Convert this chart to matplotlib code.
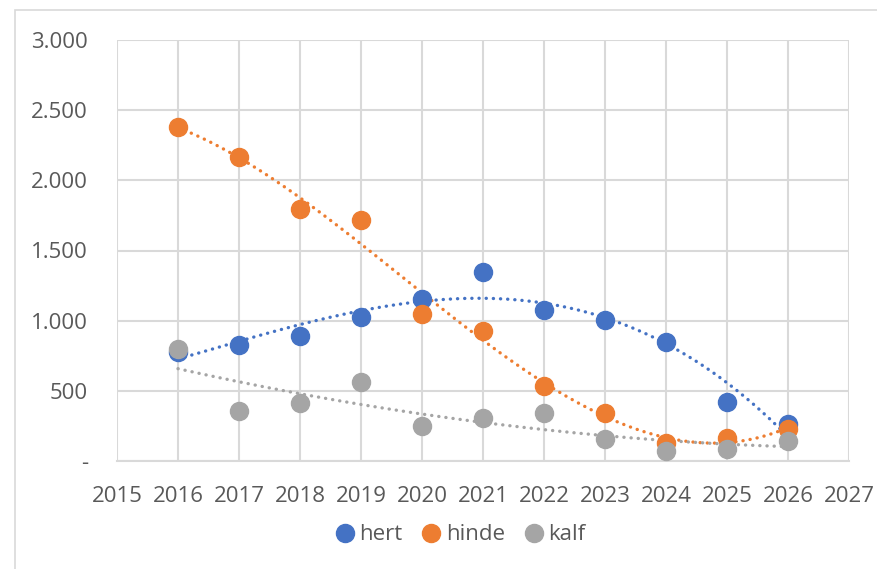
import numpy as np
import matplotlib.pyplot as plt
import matplotlib.ticker as ticker
from matplotlib.patches import Rectangle

# --- data ---
years = [2016, 2017, 2018, 2019, 2020, 2021, 2022, 2023, 2024, 2025, 2026]
hert = [780, 827, 890, 1026, 1155, 1347, 1076, 1005, 845, 420, 262]
hinde = [2380, 2167, 1796, 1715, 1048, 927, 535, 342, 128, 164, 228]
kalf = [800, 356, 413, 563, 249, 306, 342, 157, 71, 86, 143]

y_ticks = [0, 500, 1000, 1500, 2000, 2500, 3000]
x_ticks = list(range(2015, 2028))

COLORS = {"hert": "#4472C4", "hinde": "#ED7D31", "kalf": "#A5A5A5"}
TREND_DEG = {"hert": 3, "hinde": 3, "kalf": 2}
GRID_C = "#D9D9D9"
TEXT_C = "#595959"

plt.rcParams['font.family'] = ['Open Sans', 'DejaVu Sans']

fig = plt.figure(figsize=(8.77, 5.69), dpi=100)
W, H = 877, 569
ax = fig.add_axes([117 / W, 1 - 461 / H, (849 - 117) / W, (461 - 40) / H])

# chart area border
fig.patches.append(Rectangle((15 / W, -0.1), 1.1, 1 - 10 / H + 0.1,
                             transform=fig.transFigure, fill=False,
                             edgecolor=GRID_C, lw=1.2))

series = {"hert": hert, "hinde": hinde, "kalf": kalf}
x = np.array(years, dtype=float)
xs = np.linspace(x.min(), x.max(), 300)

# polynomial trendlines (dotted)
for name, vals in series.items():
    coef = np.polyfit(x - 2015, np.array(vals, dtype=float), TREND_DEG[name])
    ax.plot(xs, np.polyval(coef, xs - 2015), color=COLORS[name], lw=2.4,
            ls=(0, (0.05, 2.1)), dash_capstyle="round", zorder=2)

# markers
for name, vals in series.items():
    ax.plot(years, vals, "o", ms=13, color=COLORS[name], label=name,
            ls="none", zorder=3)

ax.set_xlim(2015, 2027)
ax.set_ylim(0, 3000)
ax.set_xticks(x_ticks)
ax.set_yticks(y_ticks)
ax.yaxis.set_major_formatter(ticker.FuncFormatter(
    lambda v, p: "-" if v == 0 else f"{int(v):,}".replace(",", ".")))
ax.grid(True, color=GRID_C, lw=1.5, zorder=0)
ax.set_axisbelow(True)
for s in ["top", "right", "left"]:
    ax.spines[s].set_visible(False)
ax.spines["bottom"].set_color(GRID_C)
ax.spines["bottom"].set_linewidth(1.5)
ax.tick_params(length=0, labelsize=16, colors=TEXT_C)
ax.tick_params(axis="x", pad=18)
ax.tick_params(axis="y", pad=21)

fig.legend(loc="center", bbox_to_anchor=(0.525, 1 - 535 / H), ncol=3,
           frameon=False, fontsize=16, handlelength=0.8, handletextpad=0.25,
           columnspacing=0.9, labelcolor=TEXT_C, markerscale=1.0)

plt.savefig("out.png", dpi=100)
